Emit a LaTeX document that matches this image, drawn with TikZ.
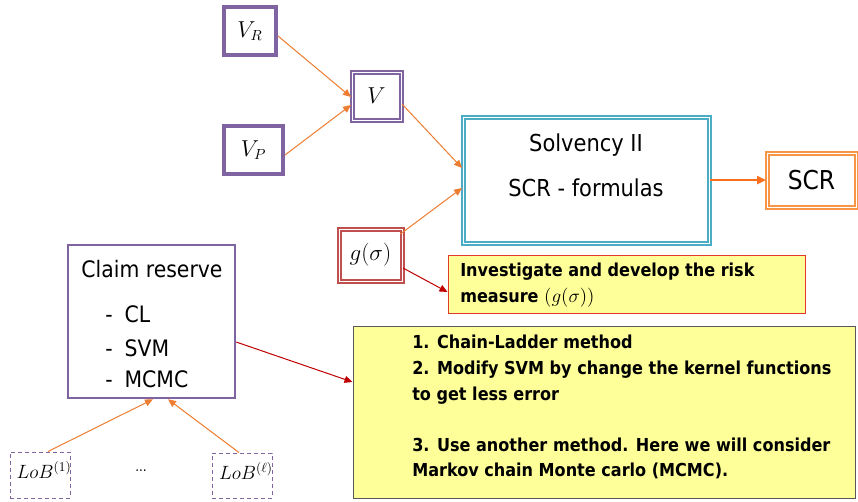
\documentclass[tikz,border=0pt]{standalone}
\usepackage{fontspec}
\setmainfont{DejaVu Sans Condensed}
\usetikzlibrary{arrows.meta}
\definecolor{boxpurple}{HTML}{8064A2}
\definecolor{boxteal}{HTML}{4BACC6}
\definecolor{boxorange}{HTML}{F79646}
\definecolor{boxred}{HTML}{C0504D}
\definecolor{linkorange}{HTML}{ED7D31}
\definecolor{linkscr}{HTML}{F8701E}
\definecolor{linkred}{HTML}{C00000}
\definecolor{notefill}{HTML}{FFFF99}
\definecolor{noteedge}{HTML}{E03A2A}
\definecolor{notegray}{HTML}{595959}
\tikzset{
  varbox/.style={draw=boxpurple, line width=3pt, fill=white, inner sep=0pt},
  dblbox/.style={draw=#1, double=white, double distance=0.75pt, line width=1.5pt, fill=white, inner sep=0pt},
  lobbox/.style={draw=boxpurple, dash pattern=on 3pt off 2.25pt, line width=0.75pt, inner sep=0pt},
  notebox/.style={draw=#1, line width=0.75pt, fill=notefill, inner sep=0pt},
  thinlink/.style={draw=linkorange, line width=0.75pt, -{Triangle[length=6pt,width=5.25pt]}},
  redlink/.style={draw=linkred, line width=0.75pt, -{Triangle[length=6pt,width=5.25pt]}},
  scrlink/.style={draw=linkscr, line width=1.9pt, -{Triangle[length=6.75pt,width=6pt]}},
  mathlbl/.style={font=\fontsize{16}{18}\selectfont, inner sep=0pt},
  loblbl/.style={font=\fontsize{14}{16}\selectfont, inner sep=0pt},
  claimtext/.style={font=\fontsize{17}{20}\selectfont, inner sep=0pt},
  notetext/.style={font=\fontsize{13.4}{19.2}\selectfont\bfseries, align=left, anchor=north west, inner sep=0pt, text=black},
}
\begin{document}
\begin{tikzpicture}[x=0.75pt, y=-0.75pt]
  \useasboundingbox[fill=white] (0,0) rectangle (858,501);

  % value inputs
  \node[varbox, minimum width=39pt, minimum height=36pt] (VR) at (250,31) {};
  \node[mathlbl] (VRt) at (250,31) {$V_R$};
  \node[varbox, minimum width=44.25pt, minimum height=36pt] (VP) at (253.5,150) {};
  \node[mathlbl] (VPt) at (253.5,150) {$V_P$};
  \node[dblbox=boxpurple, minimum width=36.75pt, minimum height=36pt] (V) at (376.5,96) {};
  \node[mathlbl] (Vt) at (376.5,96) {$V$};

  % Solvency II block
  \node[dblbox=boxteal, minimum width=184.5pt, minimum height=94.5pt] (Solv) at (586,180) {};
  \node[font=\fontsize{17.5}{20}\selectfont, inner sep=0pt, anchor=base] (Solv1) at (586,151) {Solvency II};
  \node[font=\fontsize{17.5}{20}\selectfont, inner sep=0pt, anchor=base] (Solv2) at (586,196) {SCR - formulas};

  % SCR output
  \node[dblbox=boxorange, minimum width=66.75pt, minimum height=40.5pt] (SCR) at (811.5,180) {};
  \node[font=\fontsize{19.5}{22}\selectfont, inner sep=0pt] (SCRt) at (811.5,180) {SCR};

  % risk measure
  \node[dblbox=boxred, minimum width=47.25pt, minimum height=39pt] (g) at (370.5,255) {};
  \node[mathlbl] (gt) at (370.5,255) {$g(\sigma)$};

  \node[notebox=noteedge, minimum width=267.75pt, minimum height=43.5pt] (Y1) at (626.5,284) {};
  \node[notetext] (Y1t) at (460,263) {Investigate and develop the risk\\measure $\mathbf{(}g(\sigma)\mathbf{)}$};

  % claim reserve
  \node[draw=boxpurple, line width=1.9pt, fill=white, minimum width=125.25pt, minimum height=114.75pt, inner sep=0pt] (Claim) at (151.5,321.5) {};
  \node[claimtext, anchor=base] (Claimt) at (152,277) {Claim reserve};
  \node[claimtext, anchor=base west] (CL) at (105,322) {-\hspace{9pt}CL};
  \node[claimtext, anchor=base west] (SVM) at (105,356) {-\hspace{9pt}SVM};
  \node[claimtext, anchor=base west] (MCMC) at (105,387) {-\hspace{9pt}MCMC};

  \node[notebox=notegray, minimum width=376.5pt, minimum height=129pt] (Y2) at (604,412) {};
  \node[notetext] (Y2t) at (412,335) {1. Chain-Ladder method\\2. Modify SVM by change the kernel functions\\to get less error\\[19.2pt]3. Use another method. Here we will consider\\Markov chain Monte carlo (MCMC).};

  % lines of business
  \node[lobbox, minimum width=45pt, minimum height=34.5pt] (L1) at (40,475) {};
  \node[loblbl] (L1t) at (44,470) {$LoB^{(1)}$};
  \node[lobbox, minimum width=45pt, minimum height=33.75pt] (Ll) at (242,475.5) {};
  \node[loblbl] (Llt) at (246,471) {$LoB^{(\ell)}$};
  \node[font=\fontsize{10}{12}\selectfont, inner sep=0pt] (dots) at (141,471) {...};

  % connectors
  \draw[thinlink] ([yshift=-3.75pt]VR.east) -- ([yshift=-0.75pt]V.west);
  \draw[thinlink] ([yshift=-3.75pt]VP.east) -- ([yshift=-6.75pt]V.west);
  \draw[thinlink] ([yshift=-6pt]V.east) -- ([yshift=9pt]Solv.west);
  \draw[thinlink] ([xshift=-2pt,yshift=-4.5pt]g.north east) -- ([yshift=-6pt]Solv.west);
  \draw[scrlink] (Solv.east) -- (SCR.west);
  \draw[redlink] ([yshift=-9.75pt]g.east) -- ([yshift=-6pt]Y1.west);
  \draw[redlink] ([yshift=-15.4pt]Claim.east) -- ([yshift=22.5pt]Y2.west);
  \draw[thinlink] ([xshift=6pt]L1.north) -- ([xshift=1.1pt]Claim.south);
  \draw[thinlink] ([xshift=-2.25pt]Ll.north) -- ([xshift=12.4pt]Claim.south);
\end{tikzpicture}
\end{document}
